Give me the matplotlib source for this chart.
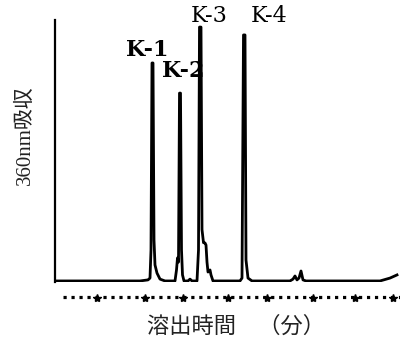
import matplotlib
matplotlib.use('Agg')
import matplotlib.pyplot as plt
from matplotlib.transforms import blended_transform_factory

plt.rcParams['font.family'] = ['Liberation Serif', 'Noto Sans CJK JP', 'DejaVu Sans']

# chromatogram trace (time in min, absorbance in %)
time = [0, 8.5, 9.3, 9.5, 9.6, 9.7, 9.8, 9.9, 10.0, 10.2, 10.5, 11.0,
        12.0, 12.15, 12.25, 12.35, 12.45, 12.55, 12.65, 12.75, 12.9,
        13.3, 13.5, 13.7, 14.2, 14.35, 14.45, 14.6, 14.7, 14.85, 15.0,
        15.1, 15.2, 15.3, 15.5, 15.6, 15.8, 18.5, 18.7, 18.85, 19.0,
        19.1, 19.3, 19.7, 23.5, 23.8, 24.0, 24.2, 24.4, 24.6, 24.8,
        25.1, 32.5, 33.5, 34.2]
absorb = [0.4, 0.4, 0.8, 1.5, 12.2, 83.6, 83.6, 16.0, 6.5, 3.4, 1.1, 0.4,
          0.4, 4.6, 9.2, 7.6, 72.1, 72.1, 12.2, 2.7, 0.4,
          0.4, 1.1, 0.4, 0.4, 12.2, 97.3, 97.3, 20.0, 15.0, 14.9,
          14.1, 7.6, 3.8, 4.6, 2.7, 0.4, 0.4, 1.5, 94.3, 94.3,
          8.4, 1.5, 0.4, 0.4, 1.1, 2.3, 0.8, 1.5, 4.2, 0.8,
          0.4, 0.4, 1.5, 2.7]

peak_names = ['K-1', 'K-2', 'K-3', 'K-4']
label_x = [9.2, 12.8, 15.4, 21.4]
label_y = [88.5, 80.5, 101.5, 101.5]
label_weight = ['bold', 'bold', 'normal', 'normal']

tick_pos = [4.2, 9.0, 12.8, 17.3, 21.2, 25.8, 30.0, 33.8]

fig = plt.figure(figsize=(4, 3.45), dpi=100)
ax = fig.add_axes([55 / 400, 1 - 282 / 345, 345 / 400, 262 / 345])

ax.plot(time, absorb, color='k', lw=2.0, solid_joinstyle='round')

for name, x, y, w in zip(peak_names, label_x, label_y, label_weight):
    ax.text(x, y, name, ha='center', va='center', fontsize=16,
            fontweight=w, family='DejaVu Serif', clip_on=False)

ax.set_xlim(0, 34.5)
ax.set_ylim(0, 100)
for s in ['top', 'right', 'bottom']:
    ax.spines[s].set_visible(False)
ax.spines['left'].set_linewidth(1.6)
ax.set_xticks([])
ax.set_yticks([])

# dotted time axis with garbled tick marks
trans = blended_transform_factory(ax.transData, ax.transAxes)
ax.plot([0.8, 34.5], [-0.057, -0.057], transform=trans, color='k',
        lw=2.3, dashes=(1, 1.5), clip_on=False)
ax.plot(tick_pos, [-0.06] * len(tick_pos), transform=trans, ls='none',
        marker='*', ms=6, color='k', clip_on=False)

fig.text(25 / 400, 1 - 135 / 345, '360nm吸収', rotation=90, fontsize=15,
         ha='center', va='center', color='#222222')
fig.text(236 / 400, 1 - 327 / 345, '溶出時間\u3000（分）', fontsize=16,
         ha='center', va='center', color='#222222')

fig.savefig('out.png', dpi=100, facecolor='white')
